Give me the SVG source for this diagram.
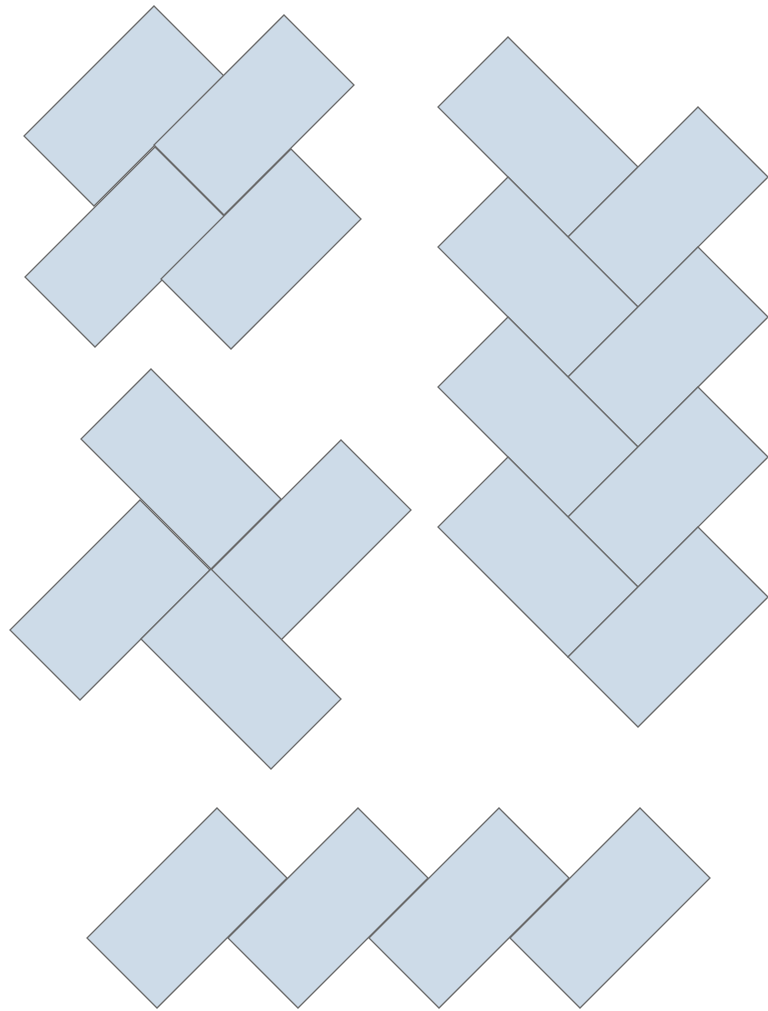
<svg xmlns="http://www.w3.org/2000/svg" xmlns:xlink="http://www.w3.org/1999/xlink" width="768" height="1011" viewBox="0 0 768 1011">
<defs>
<style>
.t{fill:#cddbe8;stroke:#6a6a6a;stroke-width:1.3;stroke-linejoin:miter}
</style>
<polygon id="q" class="t" points="0,0 70,70 -60,200 -130,130"/>
<polygon id="p" class="t" points="0,0 130,130 60,200 -70,70"/>
</defs>
<rect width="768" height="1011" fill="#ffffff"/>
<g id="group-top-left">
<use id="tl1" href="#q" x="154" y="6"/>
<use id="tl2" href="#q" x="284" y="15"/>
<use id="tl3" href="#q" x="155" y="147"/>
<use id="tl4" href="#q" x="291" y="149"/>
</g>
<g id="group-right">
<use id="r1" href="#p" x="508" y="37"/>
<use id="r2" href="#q" x="698" y="107"/>
<use id="r3" href="#p" x="508" y="177"/>
<use id="r4" href="#q" x="698" y="247"/>
<use id="r5" href="#p" x="508" y="317"/>
<use id="r6" href="#q" x="698" y="387"/>
<use id="r7" href="#p" x="508" y="457"/>
<use id="r8" href="#q" x="698" y="527"/>
</g>
<g id="group-middle">
<use id="m1" href="#p" x="151" y="369"/>
<use id="m2" href="#q" x="341" y="440"/>
<use id="m3" href="#q" x="140" y="500"/>
<use id="m4" href="#p" x="211" y="569"/>
</g>
<g id="group-bottom">
<use id="b1" href="#q" x="217" y="808"/>
<use id="b2" href="#q" x="358" y="808"/>
<use id="b3" href="#q" x="499" y="808"/>
<use id="b4" href="#q" x="640" y="808"/>
</g>
<g id="connectors"/>
</svg>
